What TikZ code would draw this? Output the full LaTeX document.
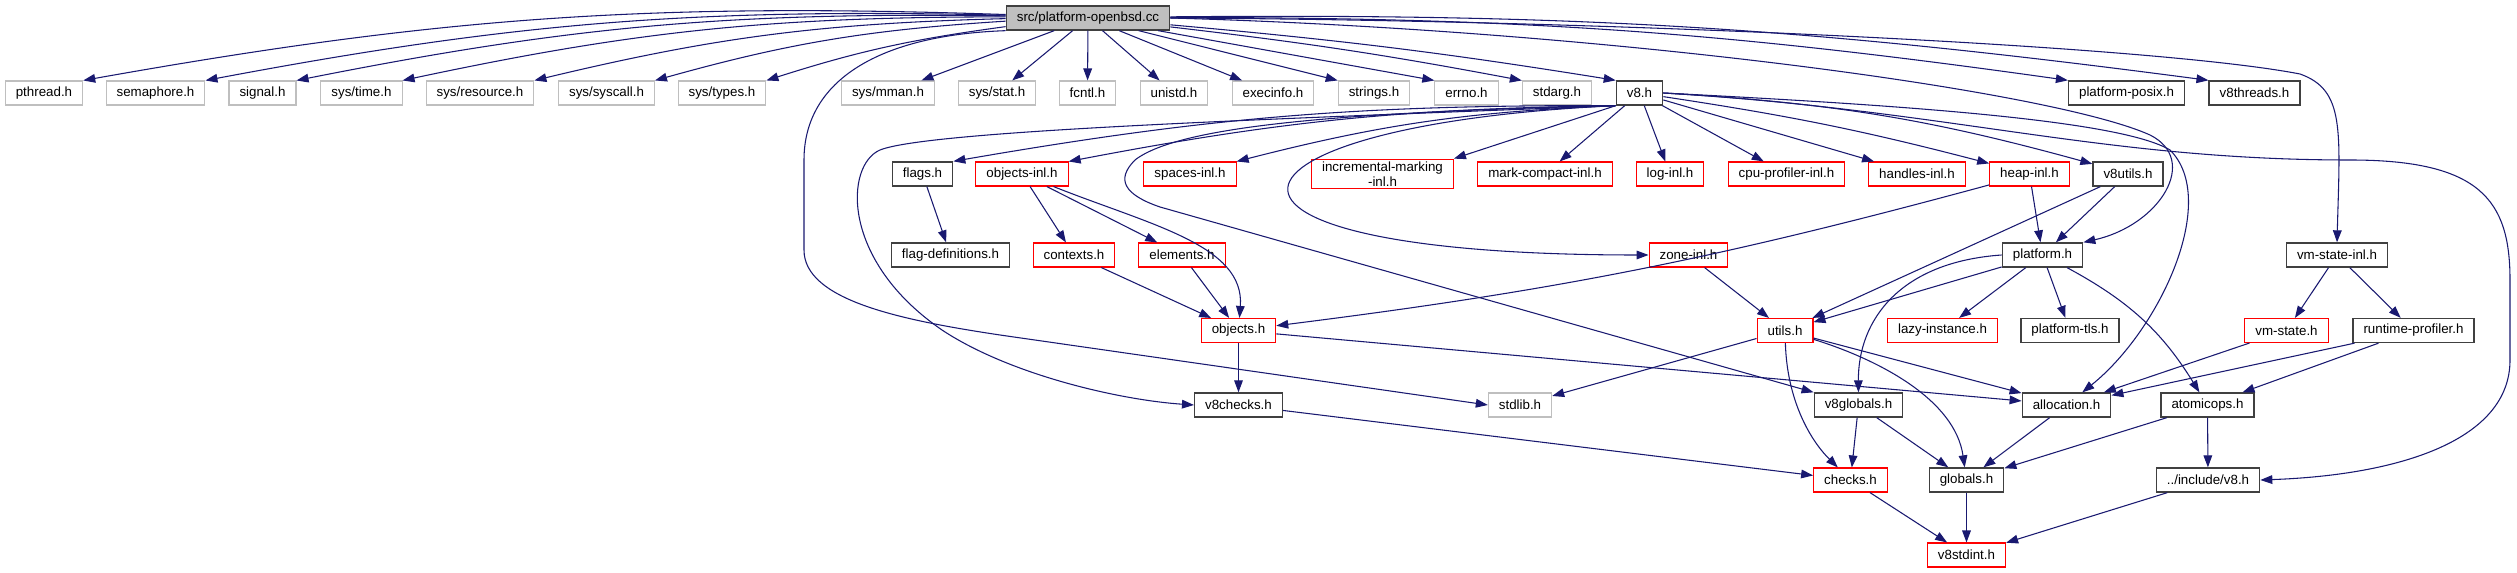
\documentclass[tikz,border=0pt]{standalone}
\usepackage{fontspec}
\setmainfont{Liberation Sans}
\usepackage{tikz}
\usetikzlibrary{arrows.meta}
\definecolor{edgeblue}{RGB}{25,25,112}
\definecolor{boxgray}{RGB}{191,191,191}
\definecolor{boxdark}{RGB}{64,64,64}

\begin{document}
\begin{tikzpicture}[x=0.75pt,y=-0.75pt,font=\fontsize{10}{11}\selectfont,
  inc/.style={-{Triangle[length=9pt,width=6.5pt]},edgeblue,line width=0.8pt},
  hfile/.style={draw,line width=0.8pt,minimum height=18pt,inner xsep=7.9pt,inner ysep=2pt,align=center},
  sysfile/.style={hfile,draw=boxgray},
  hdr/.style={hfile,draw=boxdark,line width=1pt},
  trunc/.style={hfile,draw=red},
  rootfile/.style={hfile,draw=boxdark,fill=boxgray,line width=1pt}]
\useasboundingbox (0,0) rectangle (2517,573);
% the file itself
\node[rootfile] (root) at (1088,18) {src/platform-openbsd.cc};
% first level
\node[sysfile] (pthread) at (44,93) {pthread.h};
\node[sysfile] (semaphore) at (155.5,93) {semaphore.h};
\node[sysfile] (signal) at (262.5,93) {signal.h};
\node[sysfile] (systime) at (361.5,93) {sys/time.h};
\node[sysfile] (sysres) at (480,93) {sys/resource.h};
\node[sysfile] (syscall) at (606.5,93) {sys/syscall.h};
\node[sysfile] (systypes) at (722,93) {sys/types.h};
\node[sysfile] (sysmman) at (888,93) {sys/mman.h};
\node[sysfile] (sysstat) at (997,93) {sys/stat.h};
\node[sysfile] (fcntl) at (1087.5,93) {fcntl.h};
\node[sysfile] (unistd) at (1174,93) {unistd.h};
\node[sysfile] (execinfo) at (1273,93) {execinfo.h};
\node[sysfile] (strings) at (1374,93) {strings.h};
\node[sysfile] (errnoh) at (1466.5,93) {errno.h};
\node[sysfile] (stdarg) at (1557,93) {stdarg.h};
\node[hdr] (v8) at (1639.5,93) {v8.h};
\node[hdr] (posix) at (2126.5,93) {platform-posix.h};
\node[hdr] (v8threads) at (2254.5,93) {v8threads.h};
% second level
\node[hdr] (flags) at (922.5,174) {flags.h};
\node[trunc] (objinl) at (1022,174) {objects-inl.h};
\node[trunc] (spaces) at (1190,174) {spaces-inl.h};
\node[trunc] (incmark) at (1382.5,174) {incremental-marking\\-inl.h};
\node[trunc] (markc) at (1545,174) {mark-compact-inl.h};
\node[trunc] (login) at (1670,174) {log-inl.h};
\node[trunc] (cpuprof) at (1786.5,174) {cpu-profiler-inl.h};
\node[trunc] (handles) at (1917,174) {handles-inl.h};
\node[trunc] (heapinl) at (2029.5,174) {heap-inl.h};
\node[hdr] (v8utils) at (2128,174) {v8utils.h};
% third level
\node[hdr] (flagdef) at (950.5,255) {flag-definitions.h};
\node[trunc] (contexts) at (1074,255) {contexts.h};
\node[trunc] (elements) at (1182,255) {elements.h};
\node[trunc] (zoneinl) at (1688.5,255) {zone-inl.h};
\node[hdr] (platform) at (2042.5,255) {platform.h};
\node[hdr] (vmstateinl) at (2337,255) {vm-state-inl.h};
% fourth level
\node[trunc] (objects) at (1238.5,330.5) {objects.h};
\node[trunc] (utils) at (1785,330.5) {utils.h};
\node[trunc] (lazy) at (1942.5,330.5) {lazy-instance.h};
\node[hdr] (ptls) at (2070,330.5) {platform-tls.h};
\node[trunc] (vmstate) at (2286.5,330.5) {vm-state.h};
\node[hdr] (rtprof) at (2413.5,330.5) {runtime-profiler.h};
% fifth level and below
\node[hdr] (v8checks) at (1238.5,405) {v8checks.h};
\node[sysfile] (stdlib) at (1520,405) {stdlib.h};
\node[hdr] (v8globals) at (1858.5,405) {v8globals.h};
\node[hdr] (alloc) at (2066.5,405) {allocation.h};
\node[hdr] (atomic) at (2207.5,405) {atomicops.h};
\node[trunc] (checks) at (1850.5,480) {checks.h};
\node[hdr] (globals) at (1966.5,480) {globals.h};
\node[hdr] (incv8) at (2208,480) {../include/v8.h};
\node[trunc] (v8stdint) at (1966.5,555) {v8stdint.h};

% includes of the file itself
\draw[inc] (root) to[bend right=6] (pthread.north east);
\draw[inc] (root) to[bend right=6] (semaphore.north east);
\draw[inc] (root) to[bend right=6] (signal.north east);
\draw[inc] (root) to[bend right=6] (systime.north east);
\draw[inc] (root) to[bend right=6] (sysres.north east);
\draw[inc] (root) to[bend right=6] (syscall.north east);
\draw[inc] (root) to[bend right=5] (systypes.north east);
\draw[inc] (root) -- (sysmman);
\draw[inc] (root) -- (sysstat);
\draw[inc] (root) -- (fcntl);
\draw[inc] (root) -- (unistd);
\draw[inc] (root) -- (execinfo);
\draw[inc] (root) -- (strings.north west);
\draw[inc] (root) -- (errnoh.north west);
\draw[inc] (root) to[bend left=2] (stdarg.north west);
\draw[inc] (root) to[bend left=2] (v8.north west);
\draw[inc] (root) to[bend left=4] (posix.north west);
\draw[inc] (root) to[bend left=4] (v8threads.north west);
\draw[inc] (root.east) .. controls (1600,20) and (2150,45) .. (2300,74)
  .. controls (2345,90) and (2340,130) .. (vmstateinl.north);
\draw[inc] (root.east) .. controls (1600,30) and (2050,90) .. (2150,135)
  .. controls (2200,160) and (2160,225) .. (platform.north east);
\draw[inc] (root.south west) .. controls (880,35) and (804,80) .. (804,160) -- (804,250)
  .. controls (804,300) and (900,320) .. (1000,335) -- (stdlib.west);

% includes of v8.h
\draw[inc] (v8.south west) to[bend right=5] (flags.north east);
\draw[inc] (v8.south west) to[bend right=5] (objinl.north east);
\draw[inc] (v8.south west) to[bend right=6] (spaces.north east);
\draw[inc] (v8.south west) -- (incmark.north east);
\draw[inc] (v8) -- (markc);
\draw[inc] (v8) -- (login);
\draw[inc] (v8) -- (cpuprof);
\draw[inc] (v8) -- (handles);
\draw[inc] (v8) to[bend left=3] (heapinl);
\draw[inc] (v8.east) to[bend left=6] (v8utils);
\draw[inc] (v8.south west) .. controls (1200,125) and (1150,255) .. (zoneinl.west);
\draw[inc] (v8.south west) .. controls (1300,118) and (930,130) .. (880,150)
  .. controls (845,165) and (840,260) .. (942,330)
  .. controls (1010,375) and (1120,400) .. (v8checks.west);
\draw[inc] (v8.south west) .. controls (1350,112) and (1180,125) .. (1135,160)
  .. controls (1115,180) and (1125,195) .. (1160,207) -- (v8globals.north west);
\draw[inc] (v8.east) .. controls (1900,105) and (2120,120) .. (2170,150)
  .. controls (2220,200) and (2160,330) .. (alloc);
\draw[inc] (v8.east) .. controls (1950,110) and (2100,160) .. (2350,160)
  .. controls (2480,160) and (2510,200) .. (2510,280) -- (2510,360)
  .. controls (2510,440) and (2400,475) .. (incv8.east);

% everything below
\draw[inc] (flags) -- (flagdef);
\draw[inc] (objinl) -- (contexts);
\draw[inc] (objinl) -- (elements);
\draw[inc] (objinl) .. controls (1150,225) and (1245,245) .. (objects);
\draw[inc] (contexts) -- (objects);
\draw[inc] (elements) -- (objects);
\draw[inc] (heapinl) to[bend left=4] (objects);
\draw[inc] (heapinl) -- (platform);
\draw[inc] (v8utils) -- (platform);
\draw[inc] (v8utils) -- (utils);
\draw[inc] (zoneinl) -- (utils);
\draw[inc] (platform) -- (utils);
\draw[inc] (platform.west) .. controls (1900,262) and (1858,320) .. (v8globals);
\draw[inc] (platform) -- (lazy);
\draw[inc] (platform) -- (ptls);
\draw[inc] (platform) to[bend left=15] (atomic);
\draw[inc] (vmstateinl) -- (vmstate);
\draw[inc] (vmstateinl) -- (rtprof);
\draw[inc] (objects) -- (v8checks);
\draw[inc] (objects) -- (alloc);
\draw[inc] (utils) -- (stdlib);
\draw[inc] (utils) -- (alloc);
\draw[inc] (utils) .. controls (1880,360) and (1955,400) .. (globals);
\draw[inc] (utils) .. controls (1787,400) and (1810,440) .. (checks);
\draw[inc] (vmstate) -- (alloc);
\draw[inc] (rtprof) -- (alloc);
\draw[inc] (rtprof) -- (atomic);
\draw[inc] (v8checks) -- (checks);
\draw[inc] (v8globals) -- (checks);
\draw[inc] (v8globals) -- (globals);
\draw[inc] (alloc) -- (globals);
\draw[inc] (atomic) -- (globals);
\draw[inc] (atomic) -- (incv8);
\draw[inc] (checks) -- (v8stdint);
\draw[inc] (globals) -- (v8stdint);
\draw[inc] (incv8) -- (v8stdint);
\end{tikzpicture}
\end{document}
